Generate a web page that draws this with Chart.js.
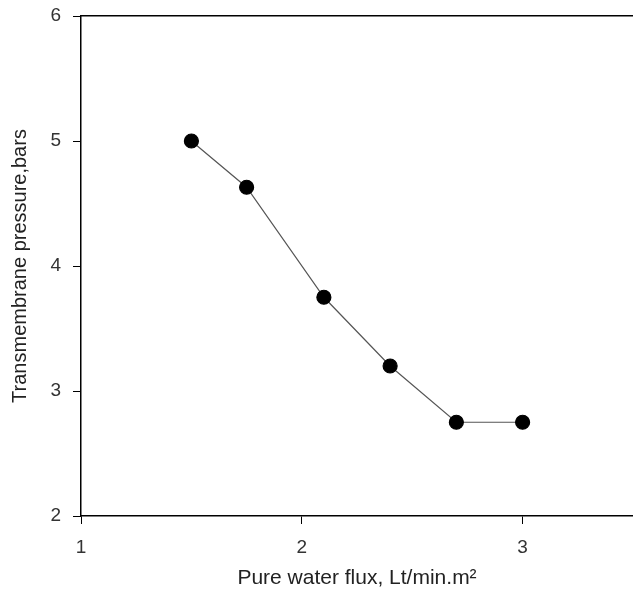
<!DOCTYPE html>
<html>
<head>
<meta charset="utf-8">
<script src="https://cdn.jsdelivr.net/npm/chart.js@4"></script>
<style>
  html, body { margin: 0; padding: 0; background: #fff; }
  #wrap { width: 633px; height: 595px; }
</style>
</head>
<body>
<div id="wrap"><canvas id="chart" width="633" height="595"></canvas></div>
<script>
// Data
const fluxValues = [1.5, 1.75, 2.1, 2.4, 2.7, 3.0];
const pressureValues = [5.0, 4.63, 3.75, 3.2, 2.75, 2.75];

const xTickValues = [1, 2, 3];
const yTickValues = [2, 3, 4, 5, 6];

const points = fluxValues.map((x, i) => ({ x: x, y: pressureValues[i] }));

const fontFamily = 'Arial, Liberation Sans, sans-serif';
const tickFont = { family: fontFamily, size: 19 };

// x axes: no side padding so the plot runs to the canvas edge
function fitX(h) {
  return s => { s.height = h; s.paddingLeft = 0; s.paddingRight = 0; };
}

new Chart(document.getElementById('chart'), {
  type: 'scatter',
  data: {
    datasets: [{
      data: points,
      showLine: true,
      borderColor: '#555',
      borderWidth: 1.2,
      pointBackgroundColor: '#000',
      pointBorderColor: '#000',
      pointRadius: 7,
      pointHoverRadius: 7,
      clip: false
    }]
  },
  options: {
    responsive: false,
    animation: false,
    layout: { autoPadding: false, padding: { top: 16, right: 0, left: 0, bottom: 0 } },
    plugins: { legend: { display: false }, tooltip: { enabled: false } },
    scales: {
      x: {
        type: 'linear',
        min: 1,
        max: 3.5,
        afterBuildTicks: s => { s.ticks = xTickValues.map(v => ({ value: v })); },
        afterFit: fitX(79),
        grid: { drawOnChartArea: false, drawTicks: true, tickLength: 8, color: '#000', tickColor: '#000' },
        border: { display: true, color: '#000', width: 1.5 },
        ticks: { color: '#333', font: tickFont, padding: 12, maxRotation: 0 },
        title: { display: true, text: 'Pure water flux, Lt/min.m²', color: '#222', font: { family: fontFamily, size: 21 }, padding: { top: 2 } }
      },
      xTop: {
        type: 'linear',
        position: 'top',
        min: 1,
        max: 3.5,
        grid: { display: false, drawTicks: false },
        border: { display: true, color: '#000', width: 1.5 },
        ticks: { display: false },
        afterFit: fitX(0)
      },
      y: {
        type: 'linear',
        min: 2,
        max: 6,
        afterBuildTicks: s => { s.ticks = yTickValues.map(v => ({ value: v })); },
        afterFit: s => { s.width = 81; s.paddingTop = 0; s.paddingBottom = 0; },
        grid: { drawOnChartArea: false, drawTicks: true, tickLength: 8, color: '#000', tickColor: '#000' },
        border: { display: true, color: '#000', width: 1.5 },
        ticks: { color: '#333', font: tickFont, padding: 12 },
        title: { display: true, text: 'Transmembrane pressure,bars', color: '#222', font: { family: fontFamily, size: 20 }, padding: { top: 8, bottom: 0 } }
      }
    }
  }
});
</script>
</body>
</html>
